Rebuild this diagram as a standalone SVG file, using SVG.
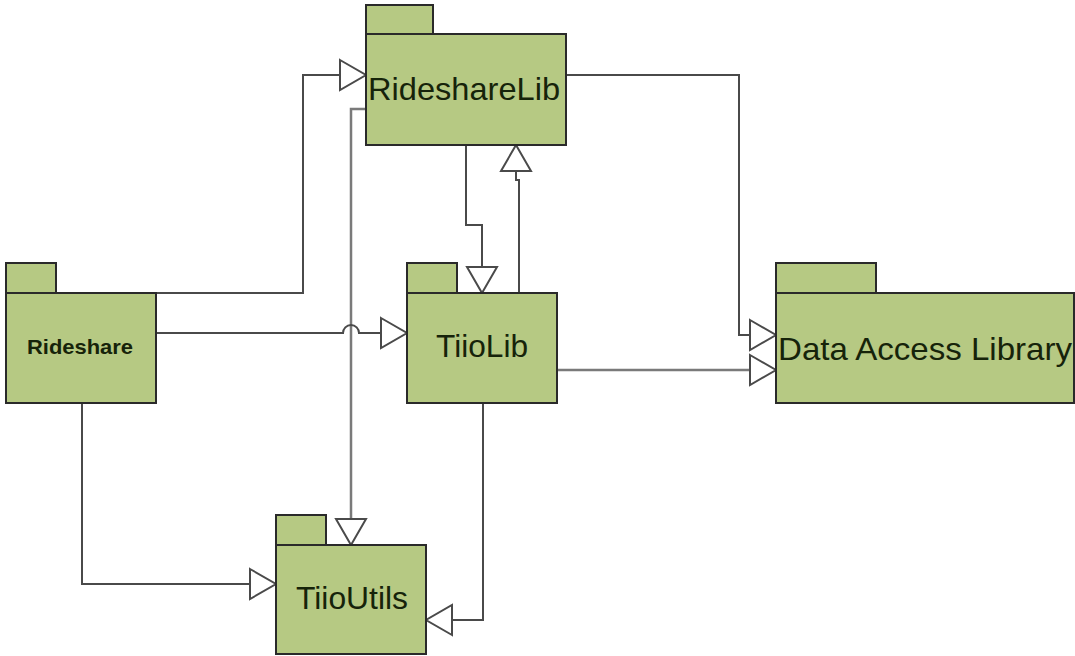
<svg xmlns="http://www.w3.org/2000/svg" width="1075" height="656" viewBox="0 0 1075 656">
<style>
.pk{fill:#b6c983;stroke:#2a2a2a;stroke-width:2}
.lb{font-family:"Liberation Sans",Arial,sans-serif;font-size:32px;fill:#16230a}
.lbb{font-family:"Liberation Sans",Arial,sans-serif;font-size:21px;font-weight:bold;fill:#16230a}
.cn{fill:none;stroke:#4a4a4a;stroke-width:2}
.cg{fill:none;stroke:#7a7a7a;stroke-width:2.5}
</style>
<defs>
<marker id="tri" markerUnits="userSpaceOnUse" markerWidth="30" markerHeight="34" refX="27" refY="16" orient="auto" viewBox="-1 -1 30 34">
<path d="M1,1 L27,16 L1,31 Z" fill="#fff" stroke="#4a4a4a" stroke-width="2"/>
</marker>
</defs>
<rect width="1075" height="656" fill="#fff"/>
<g id="connectors">
<path class="cn" d="M156,293 H303 V75 H366" marker-end="url(#tri)"/>
<path class="cg" d="M366,109 H351 V545" marker-end="url(#tri)"/>
<path class="cn" d="M156,333 H343 A8,8 0 0 1 359,333 H407" marker-end="url(#tri)"/>
<path class="cn" d="M82,403 V584 H276" marker-end="url(#tri)"/>
<path class="cn" d="M483,403 V620 H426" marker-end="url(#tri)"/>
<path class="cn" d="M466,145 V225 H482 V293" marker-end="url(#tri)"/>
<path class="cn" d="M519,293 V180 H516 V145" marker-end="url(#tri)"/>
<path class="cn" d="M566,75 H739 V335 H776" marker-end="url(#tri)"/>
<path class="cg" d="M557,370 H776" marker-end="url(#tri)"/>
</g>
<g id="ridesharelib">
<rect class="pk" x="366" y="5" width="67" height="29"/>
<rect class="pk" x="366" y="34" width="200" height="111"/>
<text class="lb" x="368" y="100" textLength="192" lengthAdjust="spacingAndGlyphs">RideshareLib</text>
</g>
<g id="rideshare">
<rect class="pk" x="6" y="263" width="50" height="30"/>
<rect class="pk" x="6" y="293" width="150" height="110"/>
<text class="lbb" x="27" y="354" textLength="106" lengthAdjust="spacingAndGlyphs">Rideshare</text>
</g>
<g id="tiiolib">
<rect class="pk" x="407" y="263" width="50" height="30"/>
<rect class="pk" x="407" y="293" width="150" height="110"/>
<text class="lb" x="436" y="357" textLength="92" lengthAdjust="spacingAndGlyphs">TiioLib</text>
</g>
<g id="dataaccesslibrary">
<rect class="pk" x="776" y="263" width="100" height="30"/>
<rect class="pk" x="776" y="293" width="298" height="110"/>
<text class="lb" x="778" y="360" textLength="294" lengthAdjust="spacingAndGlyphs">Data Access Library</text>
</g>
<g id="tiioutils">
<rect class="pk" x="276" y="515" width="50" height="30"/>
<rect class="pk" x="276" y="545" width="150" height="109"/>
<text class="lb" x="296" y="609" textLength="112" lengthAdjust="spacingAndGlyphs">TiioUtils</text>
</g>
</svg>
